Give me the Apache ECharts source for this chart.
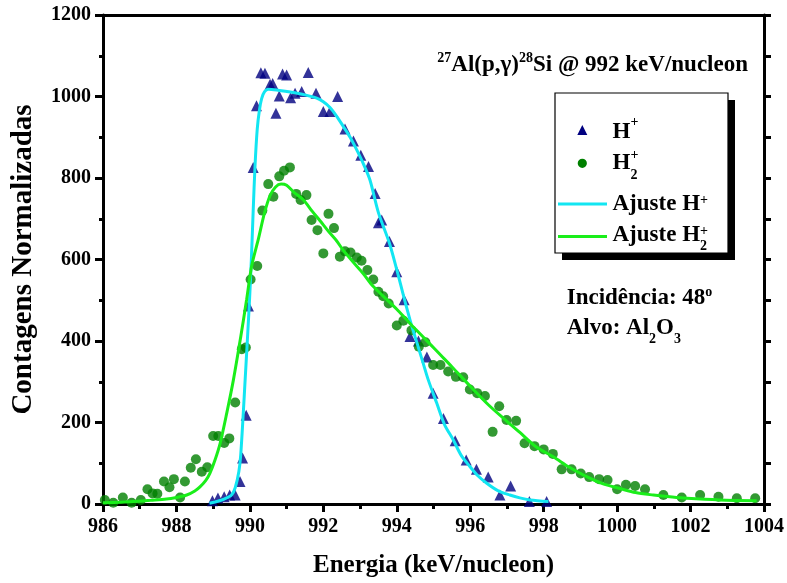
<!DOCTYPE html>
<html>
<head>
<meta charset="utf-8">
<script src="https://cdn.jsdelivr.net/npm/echarts@6/dist/echarts.min.js"></script>
<style>
  html, body { margin: 0; padding: 0; background: #fff; }
  #chart { width: 787px; height: 583px; }
</style>
</head>
<body>
<div id="chart"></div>
<script>
// ---- Measured spectra: H+ beam (triangles) ----
const energiaHp = [988.98, 989.13, 989.3, 989.45, 989.6, 989.73, 989.8, 989.9, 989.96, 990.09,
  990.18, 990.3, 990.41, 990.55, 990.62, 990.71, 990.8, 990.89, 991.0, 991.11,
  991.23, 991.41, 991.59, 991.8, 992.0, 992.18, 992.39, 992.59, 992.82, 993.02,
  993.23, 993.41, 993.5, 993.59, 993.8, 994.0, 994.2, 994.36, 994.59, 994.82,
  994.99, 995.27, 995.59, 995.89, 996.17, 996.49, 996.81, 997.1, 997.61, 998.08];
const contagensHp = [8, 15, 18, 22, 22, 55, 113, 218, 486, 826,
  977, 1058, 1057, 1030, 1032, 959, 1001, 1055, 1053, 997,
  1008, 1012, 1059, 1008, 963, 963, 1000, 920, 891, 856,
  828, 762, 690, 697, 644, 570, 501, 411, 400, 361,
  272, 210, 155, 108, 85, 66, 22, 44, 6, 6];

// ---- Measured spectra: H2+ beam (circles) ----
const energiaH2 = [986.05, 986.28, 986.54, 986.78, 987.03, 987.21, 987.35, 987.48, 987.66, 987.81,
  987.93, 988.1, 988.23, 988.39, 988.53, 988.69, 988.84, 989.0, 989.14, 989.3,
  989.44, 989.6, 989.78, 989.89, 990.02, 990.2, 990.34, 990.5, 990.64, 990.8,
  990.93, 991.09, 991.26, 991.38, 991.54, 991.68, 991.84, 992.0, 992.14, 992.29,
  992.45, 992.59, 992.74, 992.91, 993.04, 993.2, 993.36, 993.5, 993.63, 993.78,
  994.0, 994.18, 994.4, 994.6, 994.78, 994.99, 995.19, 995.4, 995.61, 995.81,
  995.99, 996.19, 996.4, 996.61, 996.79, 996.99, 997.25, 997.48, 997.75, 998.0,
  998.25, 998.49, 998.76, 999.01, 999.24, 999.51, 999.74, 1000.0, 1000.24, 1000.49,
  1000.76, 1001.26, 1001.76, 1002.26, 1002.76, 1003.26, 1003.76];
const contagensH2 = [10, 3, 16, 3, 10, 36, 26, 25, 55, 41,
  61, 16, 55, 89, 110, 79, 90, 167, 167, 150,
  161, 249, 380, 384, 551, 584, 720, 785, 754, 804,
  818, 826, 761, 746, 758, 697, 672, 615, 712, 677,
  607, 620, 617, 605, 597, 574, 551, 521, 510, 492,
  438, 450, 426, 386, 397, 341, 341, 325, 312, 311,
  281, 272, 265, 177, 240, 206, 204, 149, 142, 134,
  123, 85, 85, 75, 66, 61, 59, 36, 47, 44,
  36, 22, 16, 22, 18, 14, 14];

// ---- Fitted curves ----
const energiaAjusteHp = [988.9, 989.1, 989.3, 989.5, 989.6, 989.7, 989.75, 989.82, 989.87, 989.93,
  989.99, 990.04, 990.09, 990.14, 990.2, 990.26, 990.32, 990.4, 990.5, 990.8,
  991.1, 991.5, 991.82, 992.0, 992.18, 992.36, 992.54, 992.73, 992.91, 993.1,
  993.27, 993.5, 993.8, 994.0, 994.2, 994.36, 994.5, 994.72, 994.86, 995.09,
  995.3, 995.54, 995.75, 995.99, 996.2, 996.45, 996.75, 997.08, 997.35, 997.63, 998.13];
const contagensAjusteHp = [2, 6, 12, 22, 40, 80, 120, 223, 304, 400,
  501, 600, 720, 830, 920, 967, 995, 1012, 1018, 1015,
  1011, 1004, 996, 987, 973, 952, 927, 900, 869, 833,
  795, 715, 640, 575, 505, 452, 410, 345, 304, 247,
  195, 157, 120, 92, 70, 51, 33, 22, 15, 10, 6];

const energiaAjusteH2 = [986.0, 986.5, 986.83, 987.3, 987.73, 988.0, 988.28, 988.5, 988.64, 988.8,
  988.91, 989.05, 989.19, 989.37, 989.55, 989.75, 989.91, 990.05, 990.23, 990.4,
  990.55, 990.7, 990.85, 991.0, 991.2, 991.46, 991.7, 991.91, 992.15, 992.36,
  992.54, 992.8, 993.09, 993.3, 993.55, 994.0, 994.27, 994.5, 994.9, 995.2,
  995.5, 995.99, 996.5, 997.0, 997.36, 997.8, 998.26, 998.7, 999.17, 999.6,
  1000.08, 1000.5, 1000.99, 1001.5, 1001.9, 1002.8, 1003.8];
const contagensAjusteH2 = [3, 4, 6, 9, 12, 16, 22, 32, 42, 58,
  75, 108, 149, 223, 304, 410, 501, 585, 650, 715,
  757, 778, 785, 782, 765, 746, 718, 695, 668, 646,
  623, 595, 565, 540, 517, 478, 452, 430, 393, 365,
  337, 290, 243, 203, 175, 140, 116, 90, 67, 50,
  38, 28, 22, 17, 14, 10, 8];

// ---- Axis tick labels ----
const xTicks = [986, 988, 990, 992, 994, 996, 998, 1000, 1002, 1004];
const yTicks = [0, 200, 400, 600, 800, 1000, 1200];

const zip = (xs, ys) => xs.map((x, i) => [x, ys[i]]);

const FAMILY = '"Liberation Serif", "Times New Roman", serif';
const BLACK = '#000';
const COR_HP = '#000080';
const COR_H2 = '#008000';
const COR_AJ_HP = '#12e6f2';
const COR_AJ_H2 = '#1aee1a';

// text measuring for composed labels with super/subscripts
const meas = document.createElement('canvas').getContext('2d');
function textW(str, size) {
  meas.font = 'bold ' + size + 'px ' + FAMILY;
  return meas.measureText(str).width;
}
// parts: [text, size, dy, noAdvance]
function compose(x, y, parts, alignRight) {
  let total = 0;
  parts.forEach(p => { if (!p[3]) total += textW(p[0], p[1]); });
  let cx = alignRight ? x - total : x;
  const out = [];
  parts.forEach(p => {
    out.push({
      type: 'text', x: cx, y: y + p[2], z: 100,
      style: {
        text: p[0], font: 'bold ' + p[1] + 'px ' + FAMILY, fill: BLACK,
        align: 'left', verticalAlign: 'middle', textAlign: 'left', textVerticalAlign: 'middle'
      }
    });
    if (!p[3]) cx += textW(p[0], p[1]);
  });
  return out;
}

const F = 23, S = 14;
const graphics = [];
// reaction title
graphics.push(...compose(748, 65, [
  ['27', S, -7], ['Al(p,\u03b3)', F, 0], ['28', S, -7], ['Si @ 992 keV/nucleon', F, 0]
], true));
// legend frame with shadow
graphics.push({ type: 'rect', shape: { x: 562, y: 100, width: 173, height: 160 }, style: { fill: BLACK }, z: 90 });
graphics.push({ type: 'rect', shape: { x: 555, y: 93, width: 173, height: 160 }, style: { fill: '#fff', stroke: BLACK, lineWidth: 1.2 }, z: 91 });
// legend symbols
graphics.push({ type: 'polygon', shape: { points: [[582.3, 125], [577.3, 135], [587.3, 135]] }, style: { fill: COR_HP }, z: 95 });
graphics.push({ type: 'circle', shape: { cx: 582.3, cy: 163.3, r: 4.6 }, style: { fill: COR_H2 }, z: 95 });
graphics.push({ type: 'line', shape: { x1: 558, y1: 204, x2: 607, y2: 204 }, style: { stroke: COR_AJ_HP, lineWidth: 3 }, z: 95 });
graphics.push({ type: 'line', shape: { x1: 558, y1: 236.5, x2: 607, y2: 236.5 }, style: { stroke: COR_AJ_H2, lineWidth: 3 }, z: 95 });
// legend texts
graphics.push(...compose(612.5, 132, [['H', F, 0], ['+', S, -10]]));
graphics.push(...compose(612.5, 163, [['H', F, 0], ['+', S, -8, true], ['2', S, 12]]));
graphics.push(...compose(612.5, 204.5, [['Ajuste H', F, 0], ['+', S, -4]]));
graphics.push(...compose(612.5, 235, [['Ajuste H', F, 0], ['+', S, -4, true], ['2', S, 11]]));
// experimental conditions
graphics.push(...compose(566.7, 298, [['Incid\u00eancia: 48', F, 0], ['o', S, -6]]));
graphics.push(...compose(566.7, 328, [['Alvo: Al', F, 0], ['2', S, 11], ['O', F, 0], ['3', S, 11]]));

const axisLine = { show: true, onZero: false, lineStyle: { color: BLACK, width: 3 } };
const labelStyle = { fontFamily: FAMILY, fontWeight: 'bold', fontSize: 20, color: BLACK };

const chart = echarts.init(document.getElementById('chart'), null, { renderer: 'canvas' });
chart.setOption({
  animation: false,
  backgroundColor: '#fff',
  grid: { left: 103, right: 23, top: 15, bottom: 79, show: false, containLabel: false },
  xAxis: [{
    type: 'value', min: xTicks[0], max: xTicks[xTicks.length - 1], interval: xTicks[1] - xTicks[0],
    position: 'bottom',
    axisLine: axisLine,
    axisTick: { show: true, inside: false, length: 8, lineStyle: { color: BLACK, width: 3 } },
    minorTick: { show: true, splitNumber: 2, length: 5, lineStyle: { color: BLACK, width: 3 } },
    splitLine: { show: false },
    axisLabel: Object.assign({ margin: 13, formatter: v => String(v) }, labelStyle),
    name: 'Energia (keV/nucleon)', nameLocation: 'middle', nameGap: 49,
    nameTextStyle: { fontFamily: FAMILY, fontWeight: 'bold', fontSize: 25, color: BLACK }
  }, {
    type: 'value', min: xTicks[0], max: xTicks[xTicks.length - 1], interval: 2, position: 'top',
    axisLine: axisLine, axisTick: { show: false }, axisLabel: { show: false }, splitLine: { show: false }
  }],
  yAxis: [{
    type: 'value', min: yTicks[0], max: yTicks[yTicks.length - 1], interval: yTicks[1] - yTicks[0],
    position: 'left',
    axisLine: axisLine,
    axisTick: { show: true, inside: false, length: 8, lineStyle: { color: BLACK, width: 3 } },
    minorTick: { show: true, splitNumber: 2, length: 4, lineStyle: { color: BLACK, width: 3 } },
    splitLine: { show: false },
    axisLabel: Object.assign({ margin: 12, formatter: v => String(v) }, labelStyle),
    name: 'Contagens Normalizadas', nameLocation: 'middle', nameGap: 65, nameRotate: 90,
    nameTextStyle: { fontFamily: FAMILY, fontWeight: 'bold', fontSize: 29, color: BLACK }
  }, {
    type: 'value', min: 0, max: 1200, interval: 100, position: 'right',
    axisLine: axisLine,
    axisTick: { show: true, inside: false, length: 7, lineStyle: { color: BLACK, width: 3 } },
    axisLabel: { show: false }, splitLine: { show: false }
  }],
  series: [{
    name: 'H+', type: 'scatter', data: zip(energiaHp, contagensHp),
    symbol: 'triangle', symbolSize: 11, itemStyle: { color: COR_HP }, z: 3
  }, {
    name: 'H2+', type: 'scatter', data: zip(energiaH2, contagensH2),
    symbol: 'circle', symbolSize: 10, itemStyle: { color: COR_H2 }, z: 3
  }, {
    name: 'Ajuste H+', type: 'line', data: zip(energiaAjusteHp, contagensAjusteHp),
    smooth: 0.3, showSymbol: false, lineStyle: { color: COR_AJ_HP, width: 3 }, z: 4
  }, {
    name: 'Ajuste H2+', type: 'line', data: zip(energiaAjusteH2, contagensAjusteH2),
    smooth: 0.3, showSymbol: false, lineStyle: { color: COR_AJ_H2, width: 3 }, z: 5
  }],
  graphic: graphics
});
</script>
</body>
</html>
